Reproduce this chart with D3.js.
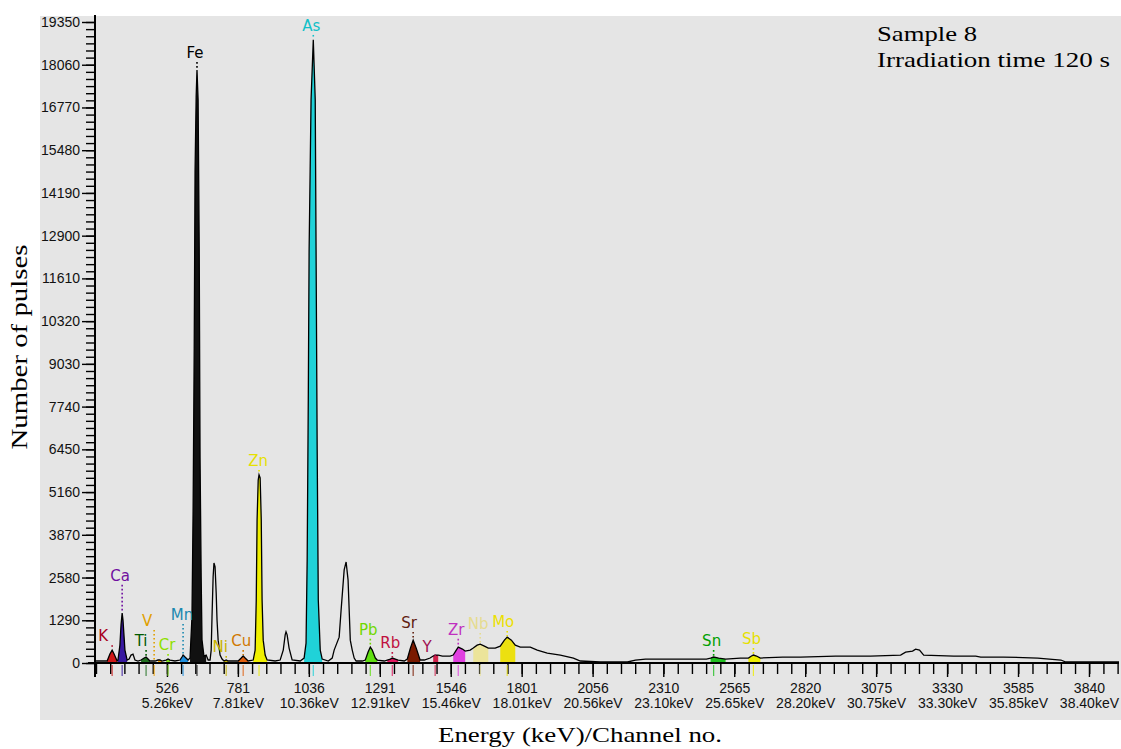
<!DOCTYPE html>
<html>
<head>
<meta charset="utf-8">
<script src="https://cdn.jsdelivr.net/npm/d3@7"></script>
<style>
  body { margin: 0; background: #fff; }
  svg { display: block; }
  .tick text { font-family: "Liberation Sans", Arial, sans-serif; font-size: 14px; fill: #111; }
  .elLabel { font-family: "DejaVu Sans", Verdana, sans-serif; font-size: 15px; }
  .serif { font-family: "Liberation Serif", "Times New Roman", serif; fill: #000; }
</style>
</head>
<body>
<svg id="chart" width="1121" height="749"></svg>
<script>
/* spectrum: channel no. / number of pulses */
const specChannels = [271, 303, 311, 321, 329, 336, 347, 350, 357, 361, 365, 368, 372, 375, 383, 390, 397, 404, 411, 422,
    433, 444, 451, 458, 465, 483, 494, 501, 508, 523, 530, 537, 555, 573, 580, 584, 591, 602,
    609, 616, 620, 624, 627, 631, 634, 638, 642, 645, 649, 652, 659, 667, 674,
    681, 685, 688, 692, 695, 699, 703, 706, 710, 717, 724, 731, 739, 746,
    782, 793, 800, 807, 818, 836, 843, 847, 850, 854, 857, 861, 865, 868, 872, 879, 886,
    915, 933, 944, 951, 954, 958, 965, 976, 1005,
    1019, 1026, 1030, 1034, 1037, 1044, 1052, 1059, 1062, 1066, 1070, 1077, 1084, 1106,
    1120, 1127, 1145, 1152, 1163, 1170, 1177, 1185, 1192, 1199, 1206, 1228,
    1239, 1249, 1257, 1264, 1275, 1282, 1307, 1318, 1329, 1336, 1347, 1357, 1379,
    1390, 1401, 1411, 1422, 1436, 1451, 1472, 1483, 1490, 1501, 1516, 1544,
    1555, 1566, 1573, 1588, 1598, 1616, 1627, 1641, 1652, 1667, 1681, 1706,
    1724, 1739, 1749, 1764, 1778, 1796, 1832, 1857, 1893, 1940, 1987, 2012,
    2084, 2181, 2210, 2246, 2372, 2444, 2465, 2480, 2491, 2509, 2534, 2587,
    2616, 2627, 2634, 2645, 2659, 2739, 2803, 2929, 3055, 3163, 3181, 3206, 3217, 3231, 3246,
    3354, 3433, 3451, 3533, 3656, 3739, 3757, 3883, 3948];
const specCounts = [60, 60, 60, 270, 390, 270, 60, 90, 540, 1150, 1510, 1300, 780, 390, 90, 120, 240, 270, 90, 60,
    90, 150, 180, 120, 60, 60, 90, 90, 60, 90, 120, 90, 60, 90, 180, 240, 180, 90,
    150, 1400, 4600, 9500, 14800, 17100, 17900, 17000, 12500, 6200, 2600, 700, 210, 240, 90,
    90, 390, 1390, 2600, 3020, 2900, 2110, 1300, 690, 240, 120, 60, 90, 60,
    60, 150, 210, 150, 60, 90, 390, 1900, 4320, 5520, 5680, 5590, 4320, 1900, 690, 240, 90,
    60, 90, 390, 850, 940, 850, 450, 90, 60,
    150, 600, 3110, 7940, 12470, 17000, 18810, 17000, 12470, 6430, 1900, 390, 120, 60,
    150, 390, 780, 1600, 2810, 3050, 2510, 690, 390, 150, 60, 60,
    90, 330, 480, 390, 150, 90, 60, 90, 120, 150, 120, 90, 60,
    120, 450, 690, 450, 90, 90, 150, 210, 240, 240, 210, 210,
    240, 390, 480, 420, 360, 390, 450, 540, 570, 510, 450, 450,
    510, 690, 780, 690, 540, 480, 480, 390, 300, 240, 150, 60,
    30, 30, 90, 120, 120, 120, 120, 150, 180, 150, 120, 150,
    150, 210, 240, 210, 150, 180, 180, 210, 210, 240, 330, 360, 420, 390, 240,
    210, 210, 180, 180, 150, 90, 30, 30, 30];

/* identified elements */
const elements    = ["K", "Ca", "Ti", "V", "Cr", "Mn", "Fe", "Ni", "Cu", "Zn", "As", "Pb", "Rb", "Sr", "Y", "Zr", "Nb", "Mo", "Sn", "Sb"];
const peakChannel = [329, 365, 451, 480, 530, 584, 634, 739, 800, 857, 1052, 1257, 1336, 1411, 1490, 1573, 1652, 1749, 2491, 2634];
const fillFrom    = [311, 350, 433, 494, 523, 573, 609, 731, 782, 836, 1019, 1239, 1318, 1390, 1483, 1555, 1627, 1724, 2480, 2616];
const fillTo      = [347, 383, 465, 508, 537, 602, 667, 746, 818, 886, 1084, 1282, 1357, 1436, 1501, 1598, 1681, 1778, 2534, 2659];
const labelLevel  = [660, 2480, 510, 1120, 390, 1300, 18260, 330, 510, 5950, 19080, 850, 450, 1060, 330, 850, 1030, 1090, 510, 570];

/* axis ticks */
const yTicks = [0, 1290, 2580, 3870, 5160, 6450, 7740, 9030, 10320, 11610, 12900, 14190, 15480, 16770, 18060, 19350];
const xTicks = [526, 781, 1036, 1291, 1546, 1801, 2056, 2310, 2565, 2820, 3075, 3330, 3585, 3840];

/* styles */
const labelColors = ["#a80020", "#7010a0", "#005a00", "#e0a000", "#90e000", "#1a88b0", "#000000", "#c8b400", "#d07800", "#e6e000",
    "#10c0c8", "#70d800", "#c01040", "#602010", "#a01050", "#c030c0", "#e6dc90", "#ece000", "#00a000", "#e6e000"];
const fillColors = ["#d01818", "#3818a0", "#207020", "#f0a000", "#80e020", "#1e90e0", "#111111", "#c8b400", "#e06010", "#f0f000",
    "#20d2d8", "#60e010", "#e01860", "#7a1a00", "#d0204a", "#e040e0", "#ece49a", "#ece010", "#20c020", "#eeee00"];
const labelDx = [-9, -2, -5, -7, -1, -1, -2, -6, -2, -1, -2, -2, -2, -4, -8, -2, -2, -4, -2, -2];

const svg = d3.select("#chart");

const x = d3.scaleLinear().domain([271, 3948]).range([96, 1119]);
const y = d3.scaleLinear().domain([0, 19350]).range([663, 22]);

const spectrum = specChannels.map((c, i) => ({ ch: c, n: specCounts[i] }));

/* grey plot panel */
svg.append("rect")
    .attr("x", 40).attr("y", 16)
    .attr("width", 1081).attr("height", 704)
    .attr("fill", "#e5e5e5");

/* peak fills */
const area = d3.area()
    .x(d => x(d.ch))
    .y0(y(0))
    .y1(d => y(d.n));

elements.forEach((el, i) => {
    const part = spectrum.filter(d => d.ch >= fillFrom[i] && d.ch <= fillTo[i]);
    svg.append("path")
        .datum(part)
        .attr("d", area)
        .attr("fill", fillColors[i]);
});

/* spectrum line */
const line = d3.line()
    .x(d => x(d.ch))
    .y(d => y(d.n));

svg.append("path")
    .datum(spectrum)
    .attr("d", line)
    .attr("fill", "none")
    .attr("stroke", "#000")
    .attr("stroke-width", 1.3);

/* y axis: minor + major ticks */
const yMinor = d3.range(0, 19350 + 1, 215);
svg.append("g")
    .attr("transform", "translate(95,0)")
    .call(d3.axisLeft(y).tickValues(yMinor).tickSize(9).tickFormat(""))
    .call(g => g.select(".domain").remove())
    .selectAll("line").attr("stroke", "#000").attr("stroke-width", 1.4);

svg.append("g")
    .attr("transform", "translate(95,0)")
    .call(d3.axisLeft(y).tickValues(yTicks).tickSize(13).tickPadding(2).tickFormat(d3.format("d")))
    .call(g => g.select(".domain").remove())
    .selectAll("line").attr("stroke", "#000").attr("stroke-width", 1.4);

svg.append("line")
    .attr("x1", 95).attr("x2", 95)
    .attr("y1", y(19350) - 7).attr("y2", y(0) + 14)
    .attr("stroke", "#000").attr("stroke-width", 2);

/* x axis */
const xMinor = d3.range(271, 3948, 51);
svg.append("g")
    .attr("transform", "translate(0," + y(0) + ")")
    .call(d3.axisBottom(x).tickValues(xMinor).tickSize(11).tickFormat(""))
    .call(g => g.select(".domain").remove())
    .selectAll("line").attr("stroke", "#000").attr("stroke-width", 1.4);

const xAxisG = svg.append("g")
    .attr("transform", "translate(0," + y(0) + ")")
    .call(d3.axisBottom(x).tickValues(xTicks).tickSize(14).tickFormat(""))
    .call(g => g.select(".domain").remove());
xAxisG.selectAll("line").attr("stroke", "#000").attr("stroke-width", 1.4);

xAxisG.selectAll(".tick").each(function (d) {
    const t = d3.select(this).select("text")
        .attr("y", 0).attr("dy", null)
        .attr("text-anchor", "middle");
    t.append("tspan").attr("x", 0).attr("y", 30).text(d);
    t.append("tspan").attr("x", 0).attr("y", 45).text((d / 100).toFixed(2) + "keV");
});

svg.append("line")
    .attr("x1", 88).attr("x2", 1119)
    .attr("y1", y(0)).attr("y2", y(0))
    .attr("stroke", "#000").attr("stroke-width", 2);

/* element markers: coloured tick below axis, dotted leader, label */
elements.forEach((el, i) => {
    const px = x(peakChannel[i]);
    const tip = spectrum.find(d => d.ch === peakChannel[i]);
    const tipY = tip ? y(tip.n) : y(0);

    svg.append("line")
        .attr("x1", px).attr("x2", px)
        .attr("y1", y(0) + 2).attr("y2", y(0) + 13)
        .attr("stroke", fillColors[i]).attr("stroke-width", 1.2)
        .attr("opacity", 0.8);

    svg.append("line")
        .attr("x1", px).attr("x2", px)
        .attr("y1", y(labelLevel[i]) + 4).attr("y2", tipY - 1)
        .attr("stroke", labelColors[i])
        .attr("stroke-width", 1.6)
        .attr("stroke-dasharray", "1.6,2.4");

    svg.append("text")
        .attr("class", "elLabel")
        .attr("x", px + labelDx[i])
        .attr("y", y(labelLevel[i]))
        .attr("text-anchor", "middle")
        .attr("fill", labelColors[i])
        .text(el);
});

/* titles */
svg.append("text")
    .attr("class", "serif")
    .attr("transform", "translate(27,347) rotate(-90)")
    .attr("text-anchor", "middle")
    .attr("font-size", 24)
    .attr("textLength", 205)
    .attr("lengthAdjust", "spacingAndGlyphs")
    .text("Number of pulses");

svg.append("text")
    .attr("class", "serif")
    .attr("x", 580).attr("y", 742)
    .attr("text-anchor", "middle")
    .attr("font-size", 22)
    .attr("textLength", 284)
    .attr("lengthAdjust", "spacingAndGlyphs")
    .text("Energy (keV)/Channel no.");

svg.append("text")
    .attr("class", "serif")
    .attr("x", 877).attr("y", 41)
    .attr("font-size", 22)
    .attr("textLength", 100)
    .attr("lengthAdjust", "spacingAndGlyphs")
    .text("Sample 8");

svg.append("text")
    .attr("class", "serif")
    .attr("x", 877).attr("y", 67)
    .attr("font-size", 22)
    .attr("textLength", 233)
    .attr("lengthAdjust", "spacingAndGlyphs")
    .text("Irradiation time 120 s");
</script>
</body>
</html>
